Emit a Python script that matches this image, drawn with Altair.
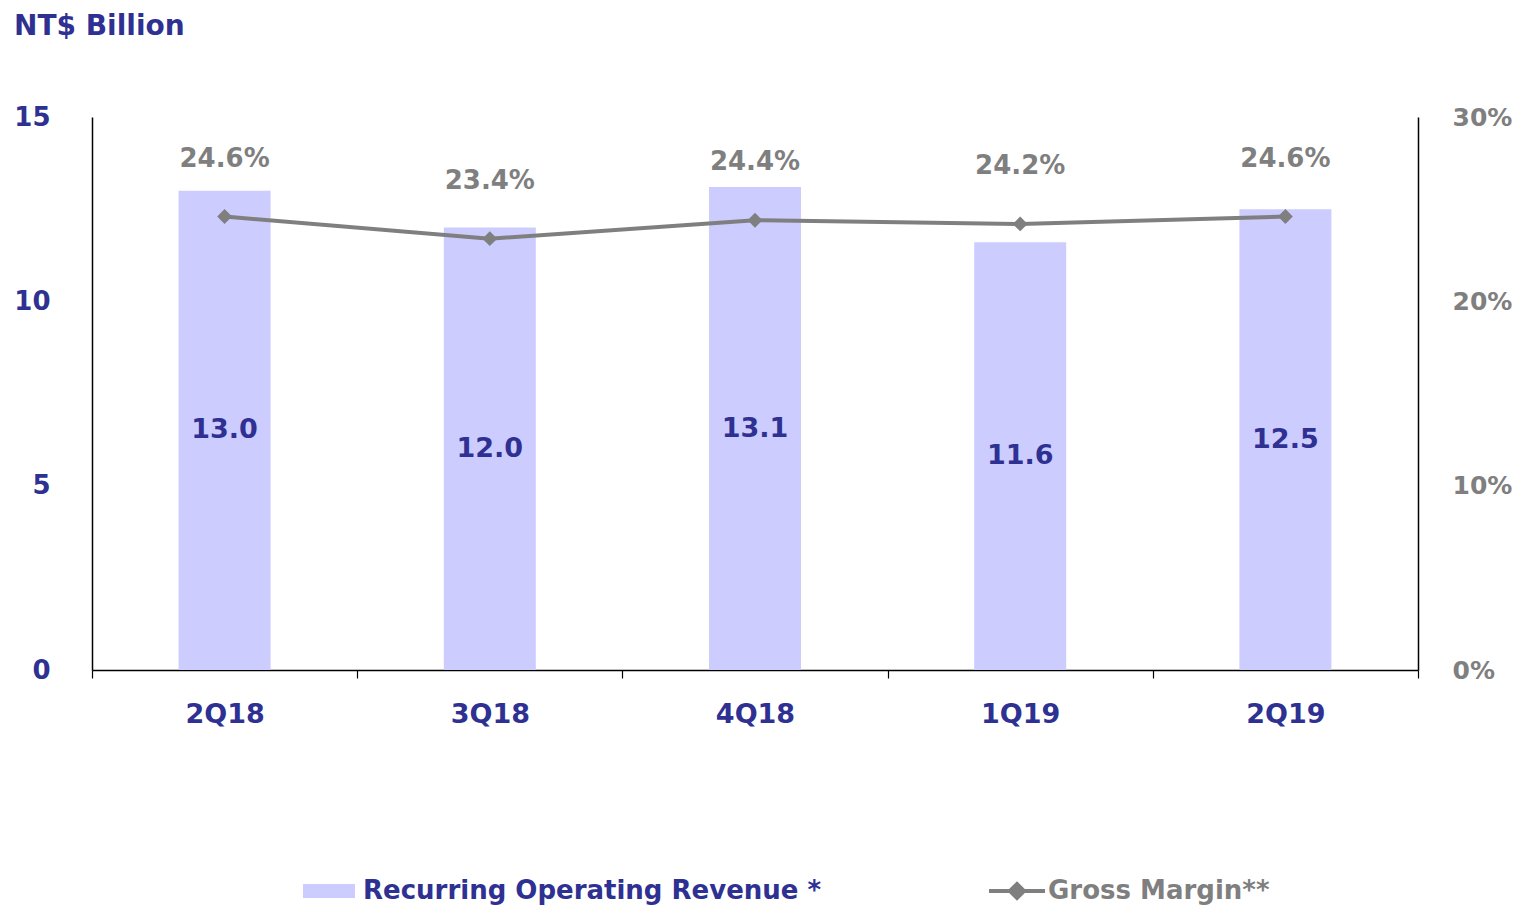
import altair as alt
import pandas as pd

quarters = ["2Q18", "3Q18", "4Q18", "1Q19", "2Q19"]
revenue = [13.0, 12.0, 13.1, 11.6, 12.5]
margin = [24.6, 23.4, 24.4, 24.2, 24.6]
series_names = ["Recurring Operating Revenue *", "Gross Margin**"]

BLUE = "#2E3192"
GRAY = "#7F7F7F"
BAR = "#CCCCFF"
FONT = "DejaVu Sans"

df = pd.DataFrame({"q": quarters, "rev": revenue, "gm": margin,
                   "s1": [series_names[0]] * 5, "s2": [series_names[1]] * 5})

xenc = alt.X(
    "q:N", sort=quarters, title=None,
    scale=alt.Scale(paddingInner=0, paddingOuter=0),
    axis=alt.Axis(labelAngle=0, labelColor=BLUE, labelFont=FONT, labelFontSize=27,
                  labelFontWeight="bold", labelPadding=23, tickSize=8, ticks=True,
                  tickBand="extent", tickColor="black", tickWidth=1.2,
                  domainColor="black", domainWidth=1.5),
)

left_axis = alt.Axis(values=[0, 5, 10, 15], grid=False, ticks=False, labelPadding=42,
                     labelColor=BLUE, labelFont=FONT, labelFontSize=26,
                     labelFontWeight="bold", domainColor="black", domainWidth=1.5)
right_axis = alt.Axis(orient="right", values=[0, 10, 20, 30], grid=False, ticks=False,
                      labelExpr="datum.value + '%'", labelPadding=34,
                      labelColor=GRAY, labelFont=FONT, labelFontSize=25,
                      labelFontWeight="bold", domainColor="black", domainWidth=1.5)
left_scale = alt.Scale(domain=[0, 15])
right_scale = alt.Scale(domain=[0, 30])

base = alt.Chart(df).encode(x=xenc)

bars = base.mark_bar(size=92).encode(
    y=alt.Y("rev:Q", scale=left_scale, title=None, axis=left_axis),
    fill=alt.Fill("s1:N",
                  scale=alt.Scale(range=[BAR]),
                  legend=alt.Legend(title=None, orient="none", legendX=211, legendY=748,
                                    symbolType="M-1,-0.27H1V0.27H-1Z", symbolSize=2704,
                                    symbolStrokeWidth=0, labelColor=BLUE, labelFont=FONT,
                                    labelFontSize=26, labelFontWeight="bold", labelLimit=0,
                                    labelOffset=8, padding=0)),
)

bar_text = base.mark_text(font=FONT, fontSize=27, fontWeight="bold", color=BLUE,
                          baseline="middle").transform_calculate(
    mid="datum.rev / 2"
).encode(
    y=alt.Y("mid:Q", scale=left_scale, title=None, axis=left_axis),
    text=alt.Text("rev:Q", format=".1f"),
)

line = base.mark_line(
    strokeWidth=4,
    point=alt.OverlayMarkDef(shape="diamond", size=220, filled=True, color=GRAY, strokeWidth=0),
).encode(
    y=alt.Y("gm:Q", scale=right_scale, title=None, axis=right_axis),
    stroke=alt.Stroke("s2:N",
                      scale=alt.Scale(range=[GRAY]),
                      legend=alt.Legend(title=None, orient="none", legendX=895, legendY=744,
                                        symbolType="M-1,0H1M-0.25,0L0,-0.25L0.25,0L0,0.25Z",
                                        symbolSize=3136, symbolStrokeWidth=4,
                                        symbolFillColor=GRAY, symbolStrokeColor=GRAY,
                                        labelColor=GRAY, labelFont=FONT, labelLimit=0,
                                        labelFontSize=26, labelFontWeight="bold",
                                        labelOffset=1, padding=0)),
)

line_text = base.mark_text(font=FONT, fontSize=26, fontWeight="bold", color=GRAY,
                           baseline="middle", dy=-58).transform_calculate(
    lab="format(datum.gm, '.1f') + '%'"
).encode(
    y=alt.Y("gm:Q", scale=right_scale, title=None, axis=right_axis),
    text="lab:N",
)

left = alt.layer(bars, bar_text)
right = alt.layer(line, line_text)

chart = alt.layer(left, right).resolve_scale(y="independent").properties(
    width=1326, height=553,
    autosize=alt.AutoSizeParams(type="none"),
    padding={"left": 84, "top": 109, "right": 95, "bottom": 236},
    title=alt.TitleParams("NT$ Billion", anchor="start", frame="group", dx=-78, offset=63,
                          color=BLUE, font=FONT, fontSize=28, fontWeight="bold"),
).configure_view(stroke=None)

chart.save("out.html", embed_options={"renderer": "svg", "actions": False})
